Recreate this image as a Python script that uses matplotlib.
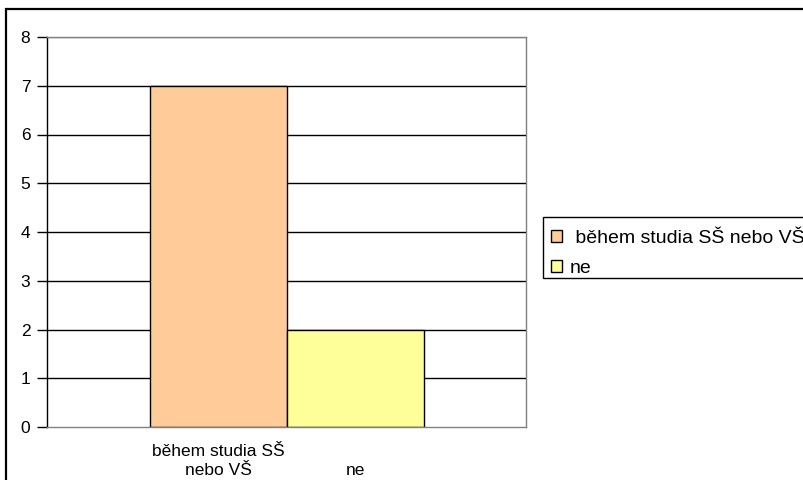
import matplotlib
matplotlib.use("Agg")
import matplotlib.pyplot as plt
from matplotlib.patches import Rectangle

plt.rcParams['font.family'] = ['Liberation Sans', 'DejaVu Sans']

# data
categories = ["během studia SŠ\nnebo VŠ", "ne"]
legend_labels = ["během studia SŠ nebo VŠ", "ne"]
values = [7, 2]
colors = ["#FFCC99", "#FFFF99"]

fig = plt.figure(figsize=(8.04, 4.8), dpi=100)
fig.patch.set_facecolor("white")

# outer chart border (runs off right and bottom edge)
fig.patches.append(Rectangle((6/804, -0.1), 1.2, 1.1 - 9/480, transform=fig.transFigure,
                             fill=False, edgecolor="black", lw=1.6, zorder=0))

ax = fig.add_axes([47/804, 1 - 427/480, (526 - 47)/804, (427 - 37)/480])

xs = list(range(len(values)))
bars = ax.bar(xs, values, width=1.0, color=colors, edgecolor="black", lw=1.0, zorder=3)

ax.set_ylim(0, 8)
ax.set_yticks(range(0, 9))
ax.set_xlim(-0.5 - 103/137, 1.5 + 102/137)

for y in range(1, 9):
    ax.axhline(y, color="black" if y < 8 else "#808080", lw=1.0, zorder=1)

# single-line labels sit on the second line like in the original
ax.set_xticks(xs)
ax.set_xticklabels([c if "\n" in c else "\n" + c for c in categories], fontsize=12.5)
for t in ax.get_xticklabels():
    t.set_linespacing(1.4)
ax.tick_params(axis="x", length=0, pad=12)
ax.tick_params(axis="y", length=7, width=1, labelsize=12.5, pad=5, direction="out")

for s in ["top", "right", "bottom"]:
    ax.spines[s].set_color("#808080")
ax.spines["left"].set_color("black")
for s in ax.spines.values():
    s.set_linewidth(1.0)
ax.spines["bottom"].set_zorder(4)

# legend box drawn by hand, it runs past the right edge
fig.patches.append(Rectangle((543/804, 1 - 278/480), 0.5, 61/480, transform=fig.transFigure,
                             fill=True, facecolor="white", edgecolor="black", lw=1.0))
leg_labels = [" " + legend_labels[0]] + legend_labels[1:]
leg = fig.legend(bars, leg_labels, loc="upper left",
                 bbox_to_anchor=(551/804, 1 - 230/480), fontsize=14,
                 frameon=False,
                 handlelength=0.57, handleheight=0.57, handletextpad=0.4,
                 borderpad=0, labelspacing=0.65, borderaxespad=0)

fig.savefig("out.png", dpi=100)
